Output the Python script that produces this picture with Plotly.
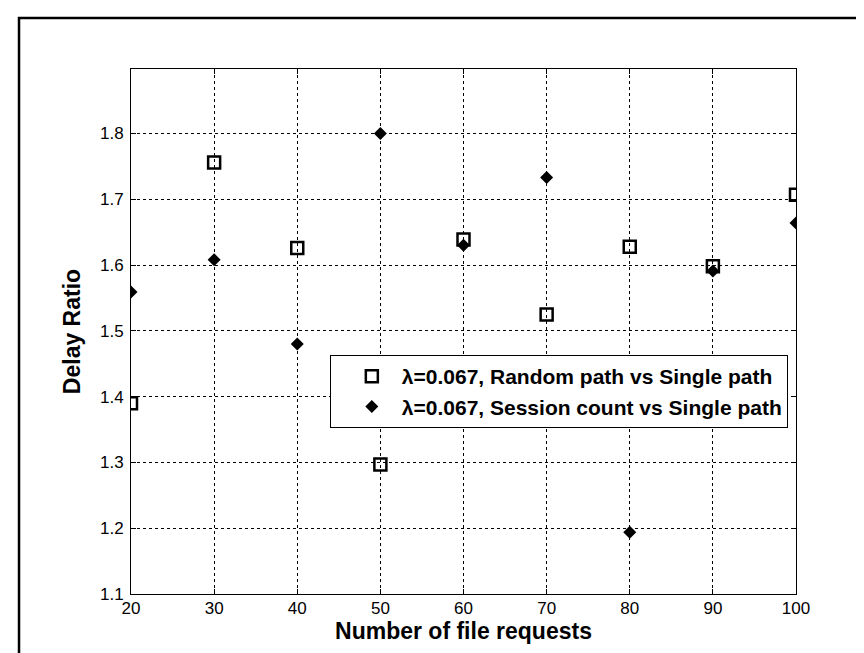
import plotly.graph_objects as go

# ---- data ----
file_requests = [20, 30, 40, 50, 60, 70, 80, 90, 100]
random_vs_single = [1.390, 1.756, 1.626, 1.297, 1.639, 1.525, 1.628, 1.598, 1.707]
session_vs_single = [1.559, 1.608, 1.480, 1.800, 1.630, 1.733, 1.194, 1.591, 1.664]
x_tick_vals = [20, 30, 40, 50, 60, 70, 80, 90, 100]
y_tick_vals = [1.1, 1.2, 1.3, 1.4, 1.5, 1.6, 1.7, 1.8]
y_tick_text = ["1.1", "1.2", "1.3", "1.4", "1.5", "1.6", "1.7", "1.8"]
series_names = ["<b>\u03bb=0.067, Random path vs Single path</b>",
                "<b>\u03bb=0.067, Session count vs Single path</b>"]

FONT = "Liberation Sans, Arial, Helvetica, sans-serif"

fig = go.Figure()
fig.add_trace(go.Scatter(
    x=file_requests, y=random_vs_single, mode="markers", name=series_names[0],
    marker=dict(symbol="square-open", size=12, color="black",
                line=dict(width=2.5, color="black")),
))
fig.add_trace(go.Scatter(
    x=file_requests, y=session_vs_single, mode="markers", name=series_names[1],
    marker=dict(symbol="diamond", size=10, color="black",
                line=dict(width=0, color="black")),
))

axis_common = dict(
    showline=True, linecolor="black", linewidth=1, mirror="ticks",
    ticks="inside", ticklen=5, tickcolor="black", tickwidth=1,
    showgrid=True, gridcolor="black", gridwidth=1, griddash="3px,3px",
    zeroline=False,
    tickfont=dict(family=FONT, size=17, color="black"),
)

fig.update_layout(
    width=864, height=653,
    margin=dict(l=123, r=76, t=61, b=67, autoexpand=False),
    paper_bgcolor="white", plot_bgcolor="white",
    font=dict(family=FONT, color="black"),
    xaxis=dict(
        range=[20, 100], tickvals=x_tick_vals, ticklabelstandoff=-1,
        **axis_common,
        title=dict(text="<b>Number of file requests</b>", standoff=1,
                   font=dict(family=FONT, size=23, color="black")),
    ),
    yaxis=dict(
        range=[1.1, 1.898], tickvals=y_tick_vals, ticktext=y_tick_text,
        ticklabelstandoff=3,
        **axis_common,
        title=dict(text="<b>Delay Ratio</b>", standoff=12,
                   font=dict(family=FONT, size=23, color="black")),
    ),
    legend=dict(
        x=0.299, y=0.455, xanchor="left", yanchor="top",
        bgcolor="white", bordercolor="black", borderwidth=1,
        font=dict(family=FONT, size=21, color="black"),
        itemwidth=50, indentation=11, tracegroupgap=0,
    ),
    showlegend=True,
    shapes=[dict(type="rect", xref="paper", yref="paper",
                 x0=-0.1684, x1=1.3, y0=-0.3, y1=1.097,
                 line=dict(color="black", width=2.5), layer="below")],
)

fig.write_html("out.html")
